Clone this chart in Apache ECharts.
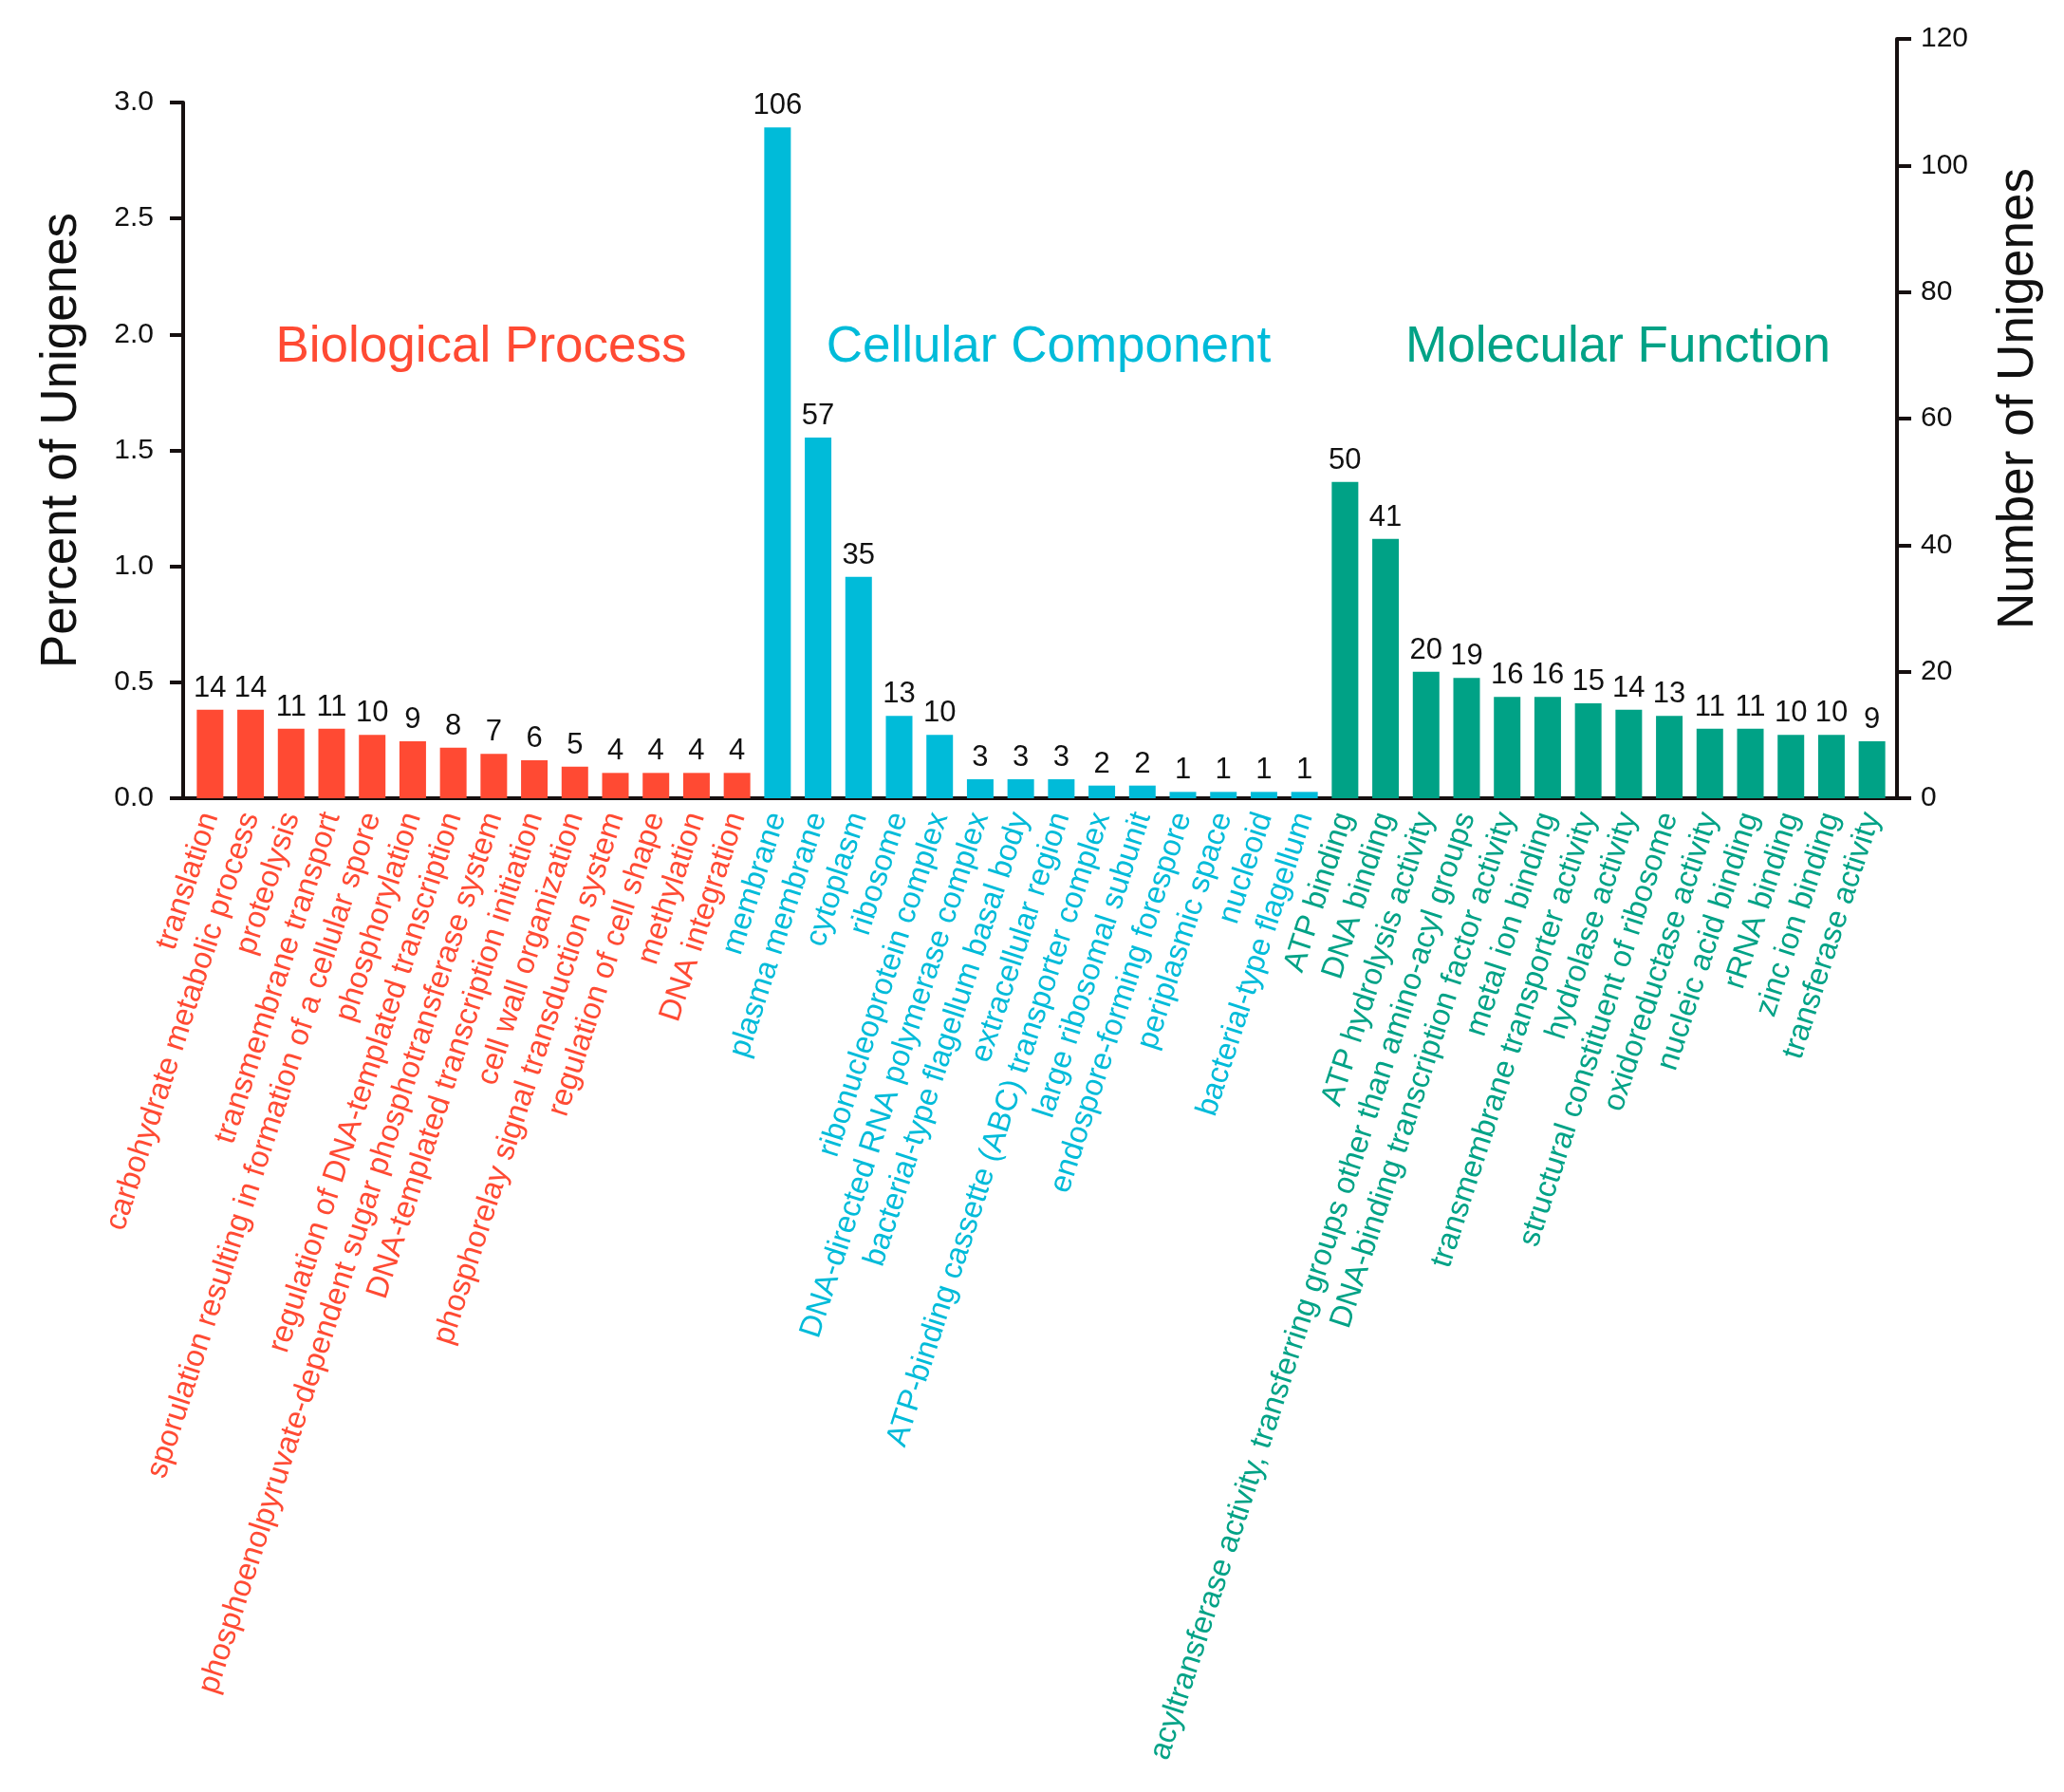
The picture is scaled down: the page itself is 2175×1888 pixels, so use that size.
<!DOCTYPE html>
<html>
<head>
<meta charset="utf-8">
<script src="https://cdn.jsdelivr.net/npm/echarts@6/dist/echarts.min.js"></script>
<style>
html,body{margin:0;padding:0;background:#fff;}
#chart{width:2175px;height:1888px;}
</style>
</head>
<body>
<div id="chart"></div>
<script>
// ---- data ----
const bpTerms = ['translation','carbohydrate metabolic process','proteolysis','transmembrane transport','sporulation resulting in formation of a cellular spore','phosphorylation','regulation of DNA-templated transcription','phosphoenolpyruvate-dependent sugar phosphotransferase system','DNA-templated transcription initiation','cell wall organization','phosphorelay signal transduction system','regulation of cell shape','methylation','DNA integration'];
const bpCounts = [14,14,11,11,10,9,8,7,6,5,4,4,4,4];
const ccTerms = ['membrane','plasma membrane','cytoplasm','ribosome','ribonucleoprotein complex','DNA-directed RNA polymerase complex','bacterial-type flagellum basal body','extracellular region','ATP-binding cassette (ABC) transporter complex','large ribosomal subunit','endospore-forming forespore','periplasmic space','nucleoid','bacterial-type flagellum'];
const ccCounts = [106,57,35,13,10,3,3,3,2,2,1,1,1,1];
const mfTerms = ['ATP binding','DNA binding','ATP hydrolysis activity','acyltransferase activity, transferring groups other than amino-acyl groups','DNA-binding transcription factor activity','metal ion binding','transmembrane transporter activity','hydrolase activity','structural constituent of ribosome','oxidoreductase activity','nucleic acid binding','rRNA binding','zinc ion binding','transferase activity'];
const mfCounts = [50,41,20,19,16,16,15,14,13,11,11,10,10,9];
const groupNames = ['Biological Process','Cellular Component','Molecular Function'];
const percentTicks = [0, 3.0, 0.5];   // min, max, interval of percent axis
const countTicks = [0, 120, 20];      // min, max, interval of count axis

// ---- styles ----
const colors = ['#FF4A33','#00BBD9','#00A286'];
const FONT = '"Liberation Sans", Arial, sans-serif';

const categories = bpTerms.concat(ccTerms, mfTerms);
const groupOf = [].concat(bpTerms.map(()=>0), ccTerms.map(()=>1), mfTerms.map(()=>2));
const barData = [].concat(bpCounts, ccCounts, mfCounts).map((v,i)=>({
  value: v, itemStyle: {color: colors[groupOf[i]]}
}));

const axisColor = '#161010';
const chart = echarts.init(document.getElementById('chart'), null, {renderer:'canvas'});
chart.setOption({
  backgroundColor: '#fff',
  animation: false,
  grid: [
    {left:193, right:176, top:108, bottom:1047},   // percent axis
    {left:193, right:176, top:41, bottom:1047},    // count axis
    {left:200, right:181, top:41, bottom:1047}     // bars
  ],
  xAxis: [
    {gridIndex:0, type:'category', data:categories,
     axisLine:{show:true, lineStyle:{color:axisColor, width:4}},
     axisTick:{show:false}, axisLabel:{show:false}},
    {gridIndex:1, type:'category', data:categories, show:false},
    {gridIndex:2, type:'category', data:categories,
     axisLine:{show:false}, axisTick:{show:false},
     axisLabel:{show:true, interval:0, rotate:72, margin:16,
       fontFamily:FONT, fontSize:32.5,
       color:(val, idx)=>colors[groupOf[idx]]}}
  ],
  yAxis: [
    {gridIndex:0, type:'value', position:'left', min:percentTicks[0], max:percentTicks[1], interval:percentTicks[2],
     splitLine:{show:false},
     axisLine:{show:true, lineStyle:{color:axisColor, width:4}},
     axisTick:{show:true, length:14, lineStyle:{color:axisColor, width:4}},
     axisLabel:{fontFamily:FONT, fontSize:30, color:'#111', margin:31, formatter:v=>v.toFixed(1)}},
    {gridIndex:1, type:'value', position:'right', min:countTicks[0], max:countTicks[1], interval:countTicks[2],
     splitLine:{show:false},
     axisLine:{show:true, lineStyle:{color:axisColor, width:4}},
     axisTick:{show:true, length:15, lineStyle:{color:axisColor, width:4}},
     axisLabel:{fontFamily:FONT, fontSize:30, color:'#111', margin:25}},
    {gridIndex:2, type:'value', min:countTicks[0], max:countTicks[1], show:false, splitLine:{show:false}}
  ],
  series: [{
    type:'bar', xAxisIndex:2, yAxisIndex:2, data:barData, barWidth:28,
    label:{show:true, position:'top', distance:7, fontFamily:FONT, fontSize:31, color:'#111'}
  }],
  graphic: [
    {type:'text', x:507, y:366, style:{text:groupNames[0], fill:colors[0], font:'53px '+FONT, textAlign:'center', textVerticalAlign:'middle'}},
    {type:'text', x:1105, y:366, style:{text:groupNames[1], fill:colors[1], font:'53px '+FONT, textAlign:'center', textVerticalAlign:'middle'}},
    {type:'text', x:1705, y:366, style:{text:groupNames[2], fill:colors[2], font:'53px '+FONT, textAlign:'center', textVerticalAlign:'middle'}},
    {type:'text', x:65, y:464, rotation:Math.PI/2, style:{text:'Percent of Unigenes', fill:'#111', font:'53px '+FONT, textAlign:'center', textVerticalAlign:'middle'}},
    {type:'text', x:2127, y:420, rotation:Math.PI/2, style:{text:'Number of Unigenes', fill:'#111', font:'53px '+FONT, textAlign:'center', textVerticalAlign:'middle'}}
  ]
});
</script>
</body>
</html>
